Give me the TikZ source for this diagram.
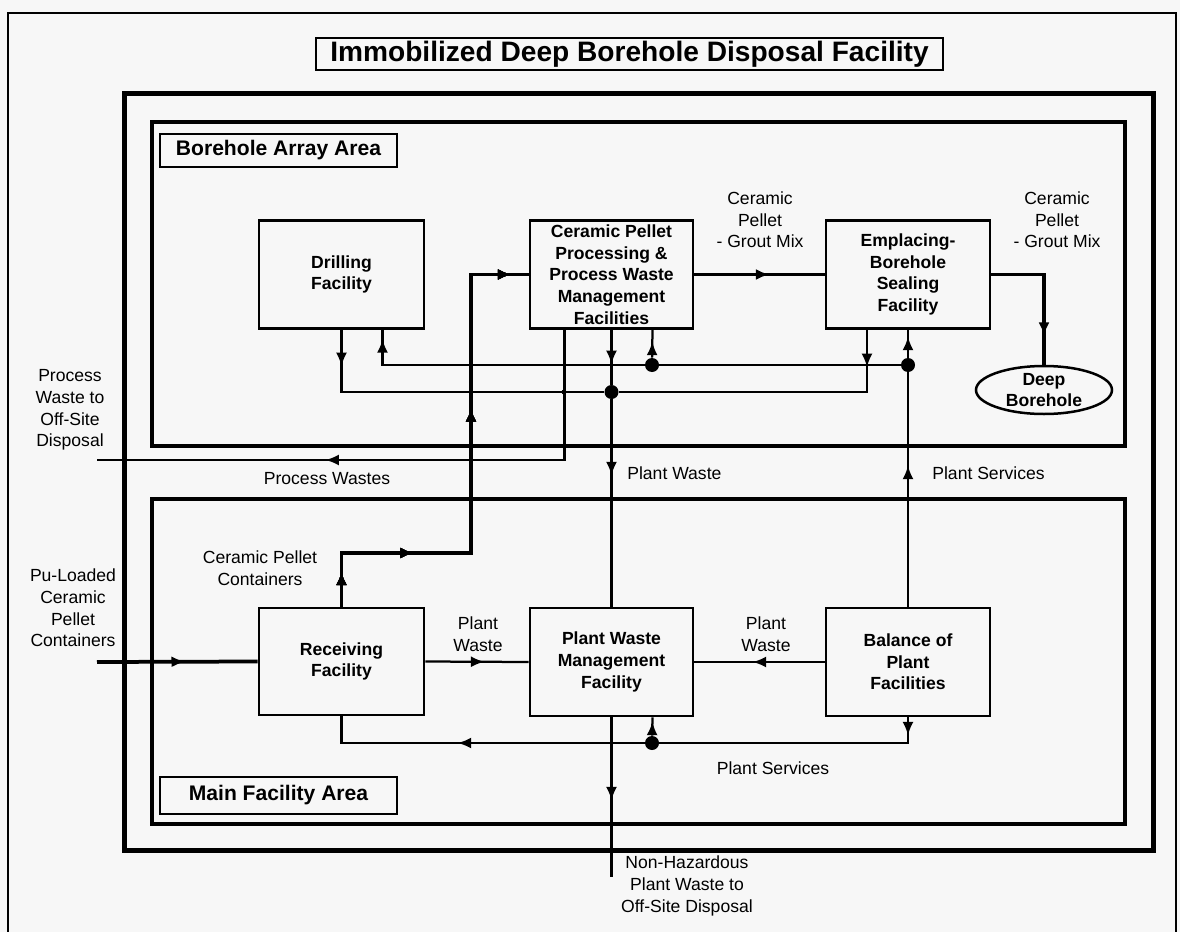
\documentclass[tikz,border=0pt]{standalone}
\usepackage{fontspec}
\setmainfont{Liberation Sans}
\usetikzlibrary{calc}
\usetikzlibrary{arrows.meta}
\usetikzlibrary{decorations.markings}
\usetikzlibrary{shapes.geometric}

\tikzset{
  facility/.style={draw, line width=0.55mm, minimum width=33mm, minimum height=21.7mm, inner sep=0.5mm, align=center, font=\fontsize{10}{12.3}\selectfont\bfseries},
  areatag/.style={draw, line width=0.5mm, minimum width=47.4mm, inner sep=0pt, font=\fontsize{12}{14}\selectfont\bfseries},
  flowtext/.style={align=center, inner sep=0pt, font=\fontsize{10}{12.3}\selectfont},
  flow/.style={line width=0.45mm},
  heavyflow/.style={line width=0.75mm},
  tipat/.style={postaction={decorate}, decoration={markings, mark=at position #1*0.2mm with {\arrow{Latex[length=2.7mm, width=2.2mm]}}}},
  joint/.style={circle, fill, inner sep=0pt, minimum size=2.8mm},
}

\begin{document}
\begin{tikzpicture}[x=0.2mm, y=-0.2mm]
\useasboundingbox (0,0) rectangle (1180,932);
\fill[black!3] (0,0) rectangle (1180,932);
\draw[line width=0.5mm] (8,13) rectangle (1176,940);
\node[draw, line width=0.5mm, minimum width=125.4mm, minimum height=6.4mm, inner sep=0pt, font=\fontsize{16}{18}\selectfont\bfseries] (title) at (629.5,54) {Immobilized Deep Borehole Disposal Facility};
\draw[line width=1mm] (124,93) rectangle (1153,850);
\draw[line width=0.7mm] (152,122) rectangle (1125,446);
\draw[line width=0.7mm] (152,499) rectangle (1125,824);
\node[areatag, minimum height=6.6mm] (bhtag) at (278.5,150.5) {Borehole Array Area};
\node[areatag, minimum height=7.4mm] (mftag) at (278.5,795.5) {Main Facility Area};

\node[facility] (drill) at (341.5,274.5) {Drilling\\Facility};
\node[facility, minimum width=32.6mm] (cpp) at (611.5,274.5) {Ceramic Pellet\\Processing \&\\Process Waste\\Management\\Facilities};
\node[facility, minimum width=32.8mm] (emplace) at (908,274.5) {Emplacing-\\Borehole\\Sealing\\Facility};
\node[draw, ellipse, line width=0.5mm, minimum width=27.2mm, minimum height=9.6mm] (borehole) at (1044,390) {};
\node[align=center, inner sep=0pt, font=\fontsize{10}{11.5}\selectfont\bfseries] (boreholetext) at (borehole) {Deep\\Borehole};
\node[facility, minimum height=21.4mm] (recv) at (341.5,661.5) {Receiving\\Facility};
\node[facility, minimum width=32.6mm, minimum height=21.6mm] (pwm) at (611.5,662) {Plant Waste\\Management\\Facility};
\node[facility, minimum width=32.8mm, minimum height=21.6mm] (bop) at (908,662) {Balance of\\Plant\\Facilities};

\coordinate (puin) at (97,662);
\coordinate (pwout) at (97,460);
\coordinate (nhout) at (611.5,877);
\node[joint] (wjoin) at (611.5,392) {};
\node[joint] (sjoin) at (908,365) {};
\node[joint] (cjoin) at (652,365) {};
\node[joint] (ljoin) at (652,743) {};
\node[joint, minimum size=1mm] (pjoin) at (564,392) {};

\draw[heavyflow, tipat=88] (puin) -- (recv.west);
\draw[heavyflow, tipat=35, tipat=126, tipat=328, tipat=502] (recv.north) -- (341.5,553) -- (471,553) -- (471,274.5) -- (cpp.west);
\draw[heavyflow, tipat=75] (cpp.east) -- (emplace.west);
\draw[heavyflow, tipat=114] (emplace.east) -| (borehole.north);

\draw[flow, tipat=36] (drill.south) |- (wjoin);
\draw[flow, tipat=37] ($(emplace.south)+(-41,0)$) |- (wjoin);
\draw[flow, tipat=34] (cpp.south) -- (wjoin);
\draw[flow, tipat=76] (wjoin) -- (pwm.north);

\draw[flow, tipat=141] (bop.north) -- (sjoin);
\draw[flow, tipat=21] (sjoin) -- (emplace.south);
\draw[flow] (sjoin) -- (cjoin);
\draw[flow, tipat=16] (cjoin) -- ($(cpp.south)+(41,0)$);
\draw[flow, tipat=288] (cjoin) -| ($(drill.south)+(41,0)$);

\draw[flow, tipat=369] ($(cpp.south)+(-47,0)$) |- (pwout);

\draw[flow, tipat=59] (recv.east) -- (pwm.west);
\draw[flow, tipat=72] (bop.west) -- (pwm.east);
\draw[flow, tipat=18] (bop.south) |- (ljoin);
\draw[flow, tipat=14] (ljoin) -- ($(pwm.south)+(41,0)$);
\draw[flow, tipat=187] (ljoin) -| (recv.south);
\draw[flow, tipat=83] (pwm.south) -- (nhout);

\node[flowtext] (gmix1) at (760,220) {Ceramic\\Pellet\\- Grout Mix};
\node[flowtext] (gmix2) at (1057,220) {Ceramic\\Pellet\\- Grout Mix};
\node[flowtext] (pwoff) at (70,410) {Process\\Waste to\\Off-Site\\Disposal};
\node[flowtext] (pwtxt) at (327,479) {Process Wastes};
\node[flowtext, anchor=west] (plwaste) at (627,473) {Plant Waste};
\node[flowtext, anchor=west] (plserv) at (932,473) {Plant Services};
\node[flowtext] (cpc) at (260,568) {Ceramic Pellet\\Containers};
\node[flowtext] (puload) at (73,608) {Pu-Loaded\\Ceramic\\Pellet\\Containers};
\node[flowtext] (rwaste) at (478,634) {Plant\\Waste};
\node[flowtext] (bwaste) at (766,634) {Plant\\Waste};
\node[flowtext] (lserv) at (773,768) {Plant Services};
\node[flowtext] (nhtxt) at (687,886) {Non-Hazardous\\Plant Waste to\\Off-Site Disposal};
\end{tikzpicture}
\end{document}
